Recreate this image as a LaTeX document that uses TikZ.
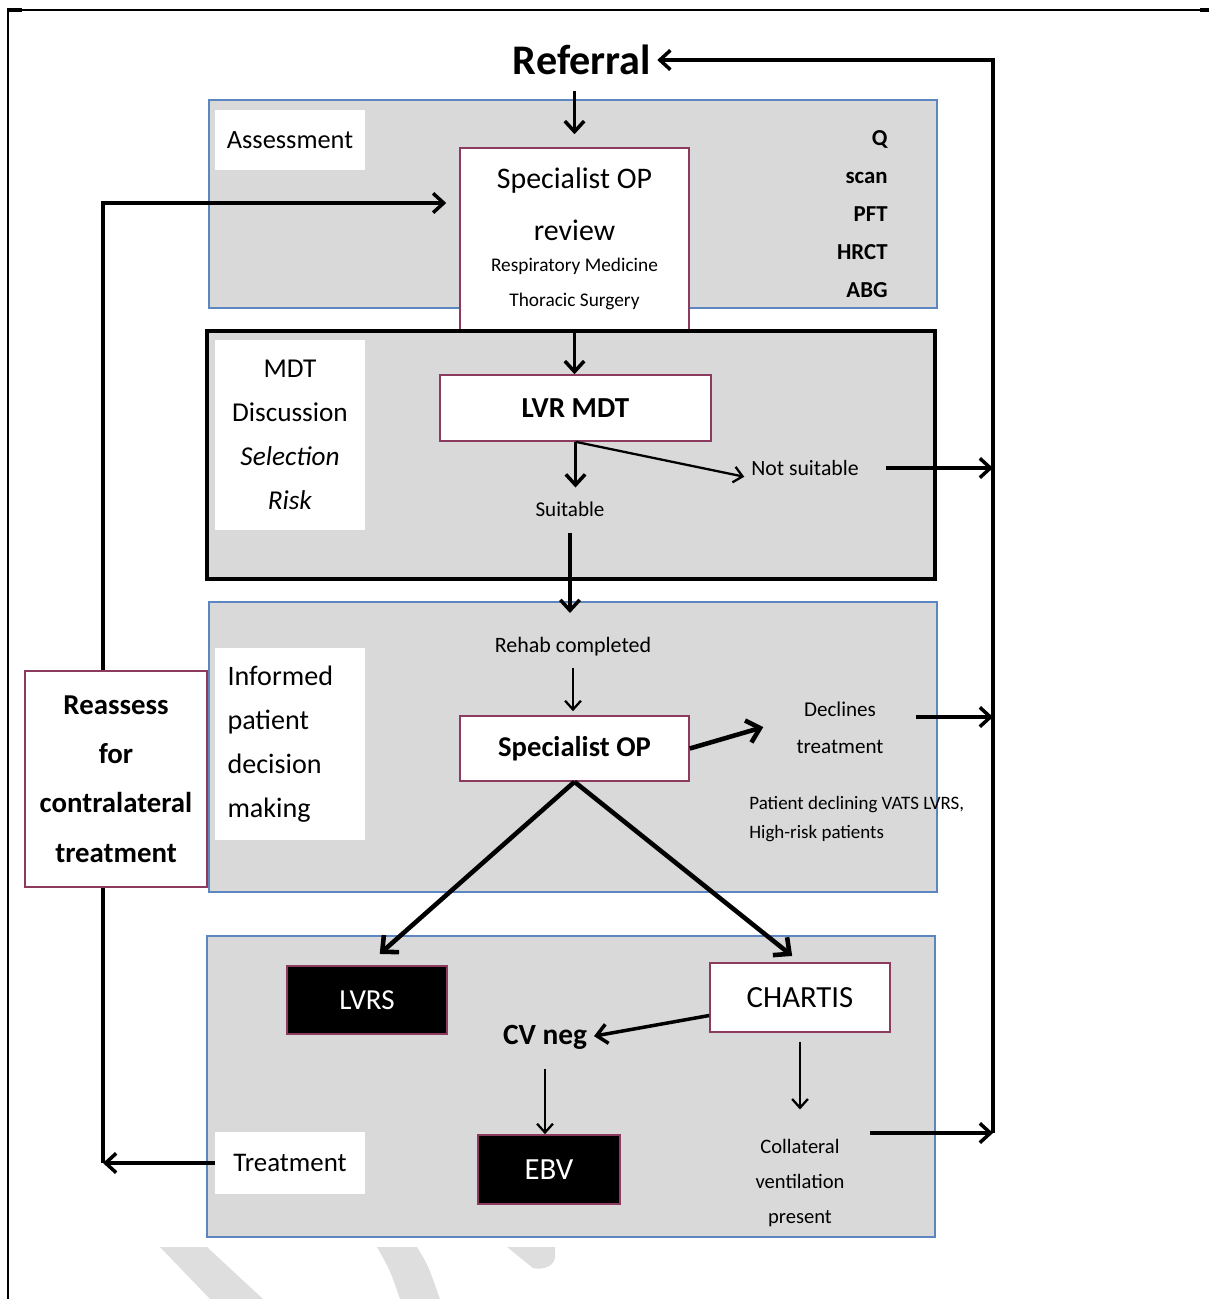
\documentclass[tikz,border=0pt]{standalone}
\usepackage{fontspec}
\setmainfont{Carlito}
\usetikzlibrary{arrows.meta}

\definecolor{panelgray}{HTML}{D9D9D9}
\definecolor{panelblue}{HTML}{5B86C0}
\definecolor{boxred}{HTML}{8C3A5E}
\definecolor{markgray}{HTML}{DEDEDE}

\newcommand{\fsz}[2]{\fontsize{#1}{#2}\selectfont}

\begin{document}
\begin{tikzpicture}[x=0.02cm, y=-0.02cm,
    panel/.style={draw=panelblue, fill=panelgray, line width=1.5pt},
    tagbox/.style={fill=white, inner sep=0pt, align=center},
    whitebox/.style={draw=boxred, fill=white, line width=0.9pt, inner sep=0pt, align=center},
    blackbox/.style={draw=boxred, fill=black, text=white, line width=0.9pt, inner sep=0pt},
    plain/.style={inner sep=1pt, align=center},
    arr/.style={-{Straight Barb[length=6pt,width=11pt]}, line width=2pt},
    thinarr/.style={-{Straight Barb[length=5pt,width=9pt]}, line width=1.3pt},
    bigarr/.style={-{Straight Barb[length=7pt,width=13pt]}, line width=2.6pt},
]
    \useasboundingbox (0,0) rectangle (1209,1299);

    % variables
    \pgfmathsetmacro{\vRightX}{993}
    \pgfmathsetmacro{\vLeftX}{103}

    % page frame and watermark
    \draw[line width=1pt] (10,10) -- (1209,10);
    \draw[line width=1.6pt] (8,9) -- (8,1299);
    \draw[line width=2pt] (7,10) -- (22,10);
    \draw[line width=2pt] (1200,10) -- (1209,10);
    \fill[markgray] (160,1247) -- (207,1247) -- (263,1299) -- (210,1299) -- cycle;
    \fill[markgray] (377,1247) -- (417,1247) .. controls (428,1265) .. (440,1299)
        -- (400,1299) .. controls (390,1270) .. (377,1247) -- cycle;
    \fill[markgray] (507,1247) -- (555,1247) -- (555,1258)
        .. controls (553,1268) and (540,1270) .. (533,1268) -- cycle;

    \node[font=\bfseries\fsz{24}{28}] (referral) at (582,60) {Referral};

    % assessment
    \draw[panel] (209,100) rectangle (937,308);
    \node[tagbox, minimum width=3cm, minimum height=1.2cm, font=\fsz{15}{18}] (assesstag) at (290,140) {Assessment};
    \node[whitebox, minimum width=4.58cm, minimum height=3.64cm, font=\fsz{11}{20}] (review) at (574.5,239)
        {{\fsz{17}{20}Specialist OP}\\[9.5pt]{\fsz{17}{20}review}\\[-2.4pt]Respiratory Medicine\\Thoracic Surgery};
    \node[anchor=east, align=right, inner sep=0pt, font=\bfseries\fsz{13}{21.6}] (tests) at (888,214) {Q\\scan\\PFT\\HRCT\\ABG};

    % MDT
    \draw[draw=black, fill=panelgray, line width=2pt] (207,331) rectangle (935,579);
    \node[tagbox, minimum width=3cm, minimum height=3.8cm, font=\fsz{15.5}{25}] (mdttag) at (290,435)
        {MDT\\Discussion\\\textit{Selection}\\\textit{Risk}};
    \node[whitebox, minimum width=5.42cm, minimum height=1.32cm, font=\bfseries\fsz{16.5}{20}] (lvrmdt) at (575.5,408) {LVR MDT};
    \node[plain, font=\fsz{12}{14}] (suitable) at (570,509) {Suitable};
    \node[plain, font=\fsz{12.4}{14}] (notsuit) at (805,468) {Not suitable};

    % informed decision
    \draw[panel] (209,602) rectangle (937,892);
    \node[tagbox, minimum width=3cm, minimum height=3.84cm, text width=2.5cm, align=left, font=\fsz{16}{25}] (informtag) at (290,744)
        {Informed\\patient\\decision\\making};
    \node[whitebox, minimum width=3.64cm, minimum height=4.32cm, font=\bfseries\fsz{16.4}{28}] (reassess) at (116,779)
        {Reassess\\for\\contralateral\\treatment};
    \node[plain, font=\fsz{12.5}{14}] (rehab) at (573,647) {Rehab completed};
    \node[whitebox, minimum width=4.58cm, minimum height=1.3cm, font=\bfseries\fsz{16.3}{20}] (specop) at (574.5,748.5) {Specialist OP};
    \node[plain, font=\fsz{12}{21}] (declines) at (840,728) {Declines\\treatment};
    \node[anchor=west, align=left, inner sep=0pt, font=\fsz{10.8}{16}] (highrisk) at (749,819)
        {Patient declining VATS LVRS,\\High-risk patients};

    % treatment
    \draw[panel] (207,936) rectangle (935,1237);
    \node[tagbox, minimum width=3cm, minimum height=1.24cm, font=\fsz{15.3}{18}] (treattag) at (290,1163) {Treatment};
    \node[blackbox, minimum width=3.2cm, minimum height=1.36cm, font=\fsz{16.5}{20}] (lvrs) at (367,1000) {LVRS};
    \node[whitebox, minimum width=3.6cm, minimum height=1.38cm, font=\fsz{17.5}{20}] (chartis) at (800,997.5) {CHARTIS};
    \node[plain, font=\bfseries\fsz{16.7}{20}] (cvneg) at (545,1037) {CV neg};
    \node[blackbox, minimum width=2.84cm, minimum height=1.38cm, font=\fsz{17.5}{20}] (ebv) at (549,1169.5) {EBV};
    \node[plain, font=\fsz{11.7}{20}] (collat) at (800,1183) {Collateral\\ventilation\\present};

    \coordinate (rtop) at (\vRightX,60);
    \coordinate (rbot) at (\vRightX,1133);
    \coordinate (cvout) at (870,1133);
    \coordinate (ltop) at (\vLeftX,203);
    \coordinate (lbot) at (\vLeftX,1163);

    % main flow
    \draw[arr, shorten <=0.2cm, shorten >=0.26cm] (referral.south -| review.north) -- (review.north);
    \draw[arr] (review.south) -- (review.south |- lvrmdt.north);
    \draw[arr, shorten >=0.24cm] (lvrmdt.south) -- (lvrmdt.south |- suitable.north);
    \draw[thinarr, shorten >=0.1cm] (lvrmdt.south) -- (notsuit.south west);
    \draw[arr, shorten <=0.28cm, shorten >=0.45cm] (suitable.south) -- (suitable.south |- rehab.north);
    \draw[thinarr, shorten <=0.18cm, shorten >=0.08cm] (rehab.south) -- (rehab.south |- specop.north);
    \draw[bigarr, shorten >=0.65cm] (specop.east) -- ([yshift=0.2cm]declines.west);
    \draw[bigarr, shorten >=0.34cm] (specop.south) -- (lvrs.north);
    \draw[bigarr, shorten >=0.2cm] (specop.south) -- (chartis.north);
    \draw[arr, shorten >=0.1cm] ([yshift=-0.36cm]chartis.west) -- (cvneg.east);
    \draw[thinarr, shorten <=0.18cm, shorten >=0.55cm] (chartis.south) -- (chartis.south |- collat.north);
    \draw[thinarr, shorten <=0.35cm] (cvneg.south) -- (cvneg.south |- ebv.north);

    % return to referral
    \draw[arr, shorten <=0.5cm] (notsuit.east) -- (notsuit.east -| rtop);
    \draw[arr, shorten <=0.6cm] ([yshift=0.22cm]declines.east) -- ([yshift=0.22cm]declines.east -| rtop);
    \draw[arr] (cvout) -- (rbot);
    \draw[arr] (rbot) -- (rtop) -- (referral.east);

    % reassessment loop
    \draw[arr] (treattag.west) -- (lbot);
    \draw[line width=2pt] (lbot) -- (lbot |- reassess.south);
    \draw[arr, shorten >=0.26cm] (lbot |- reassess.north) -- (ltop) -- (ltop -| review.west);
\end{tikzpicture}
\end{document}
